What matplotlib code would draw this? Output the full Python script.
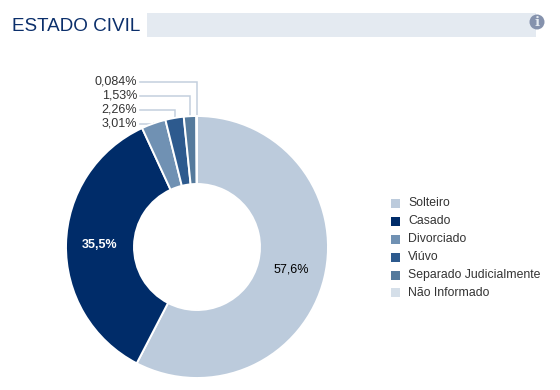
import numpy as np
import matplotlib
matplotlib.use('Agg')
import matplotlib.pyplot as plt
from matplotlib.patches import Rectangle, Circle

plt.rcParams['font.family'] = ['Liberation Sans', 'DejaVu Sans']

categories = ['Solteiro', 'Casado', 'Divorciado', 'Viúvo',
              'Separado Judicialmente', 'Não Informado']
values = [57.6, 35.5, 3.01, 2.26, 1.53, 0.084]
value_labels = ['57,6%', '35,5%', '3,01%', '2,26%', '1,53%', '0,084%']
colors = ['#bccbdc', '#002c69', '#7091b3', '#2d5a8e', '#557a9c', '#d5dfe9']

fig = plt.figure(figsize=(5.6, 3.9), dpi=100)
# axes in pixels, y measured from the bottom
ax = fig.add_axes([0, 0, 1, 1])

cx, cy, R = 197, 390 - 247, 131
wedges, _ = ax.pie(values, colors=colors, center=(cx, cy), radius=R,
                   startangle=90, counterclock=False,
                   wedgeprops=dict(width=R - 63, edgecolor='white', linewidth=1.4))
ax.set_xlim(0, 560)
ax.set_ylim(0, 390)
ax.set_aspect('equal')
ax.axis('off')

# header
ax.text(12, 390 - 26.5, 'ESTADO CIVIL', fontsize=13.6, color='#0b2f6b', va='center', ha='left')
ax.add_patch(Rectangle((147, 390 - 37), 367 + 22, 24, fc='#e4eaf1', ec='none'))
ax.add_patch(Circle((537, 390 - 22), 7.5, fc='#8592ad', ec='none'))
ax.text(537, 390 - 22, 'i', fontsize=9.5, fontweight='bold', color='#e4eaf1',
        ha='center', va='center', family='DejaVu Serif')

# inner labels
for i, c in [(0, 'black'), (1, 'white')]:
    w = wedges[i]
    a = np.deg2rad((w.theta1 + w.theta2) / 2)
    r = R - 34
    ax.text(cx + r * np.cos(a), cy + r * np.sin(a), value_labels[i],
            color=c, fontsize=9, fontweight='bold' if i == 1 else 'normal',
            ha='center', va='center')

# leader lines for the small slices
label_y = [123.5, 110, 96, 82]
for i, ly in zip([2, 3, 4, 5], label_y):
    w = wedges[i]
    a = np.deg2rad((w.theta1 + w.theta2) / 2)
    ex, ey = cx + R * np.cos(a), cy + R * np.sin(a)
    y = 390 - ly
    ax.text(137, y, value_labels[i], fontsize=9, color='#333333', ha='right', va='center')
    ax.plot([140, ex, ex], [y, y, ey], color='#c3d0de', lw=1.1, zorder=0,
            solid_joinstyle='miter')

# legend
leg_y = [203.5, 221, 239, 257, 275, 292.5]
for name, col, ly in zip(categories, colors, leg_y):
    ax.add_patch(Rectangle((391, 390 - ly - 4.5), 9, 9, fc=col, ec='none'))
    ax.text(408, 390 - ly, name, fontsize=8.8, color='#333333', ha='left', va='center')

fig.savefig('out.png', dpi=100)
